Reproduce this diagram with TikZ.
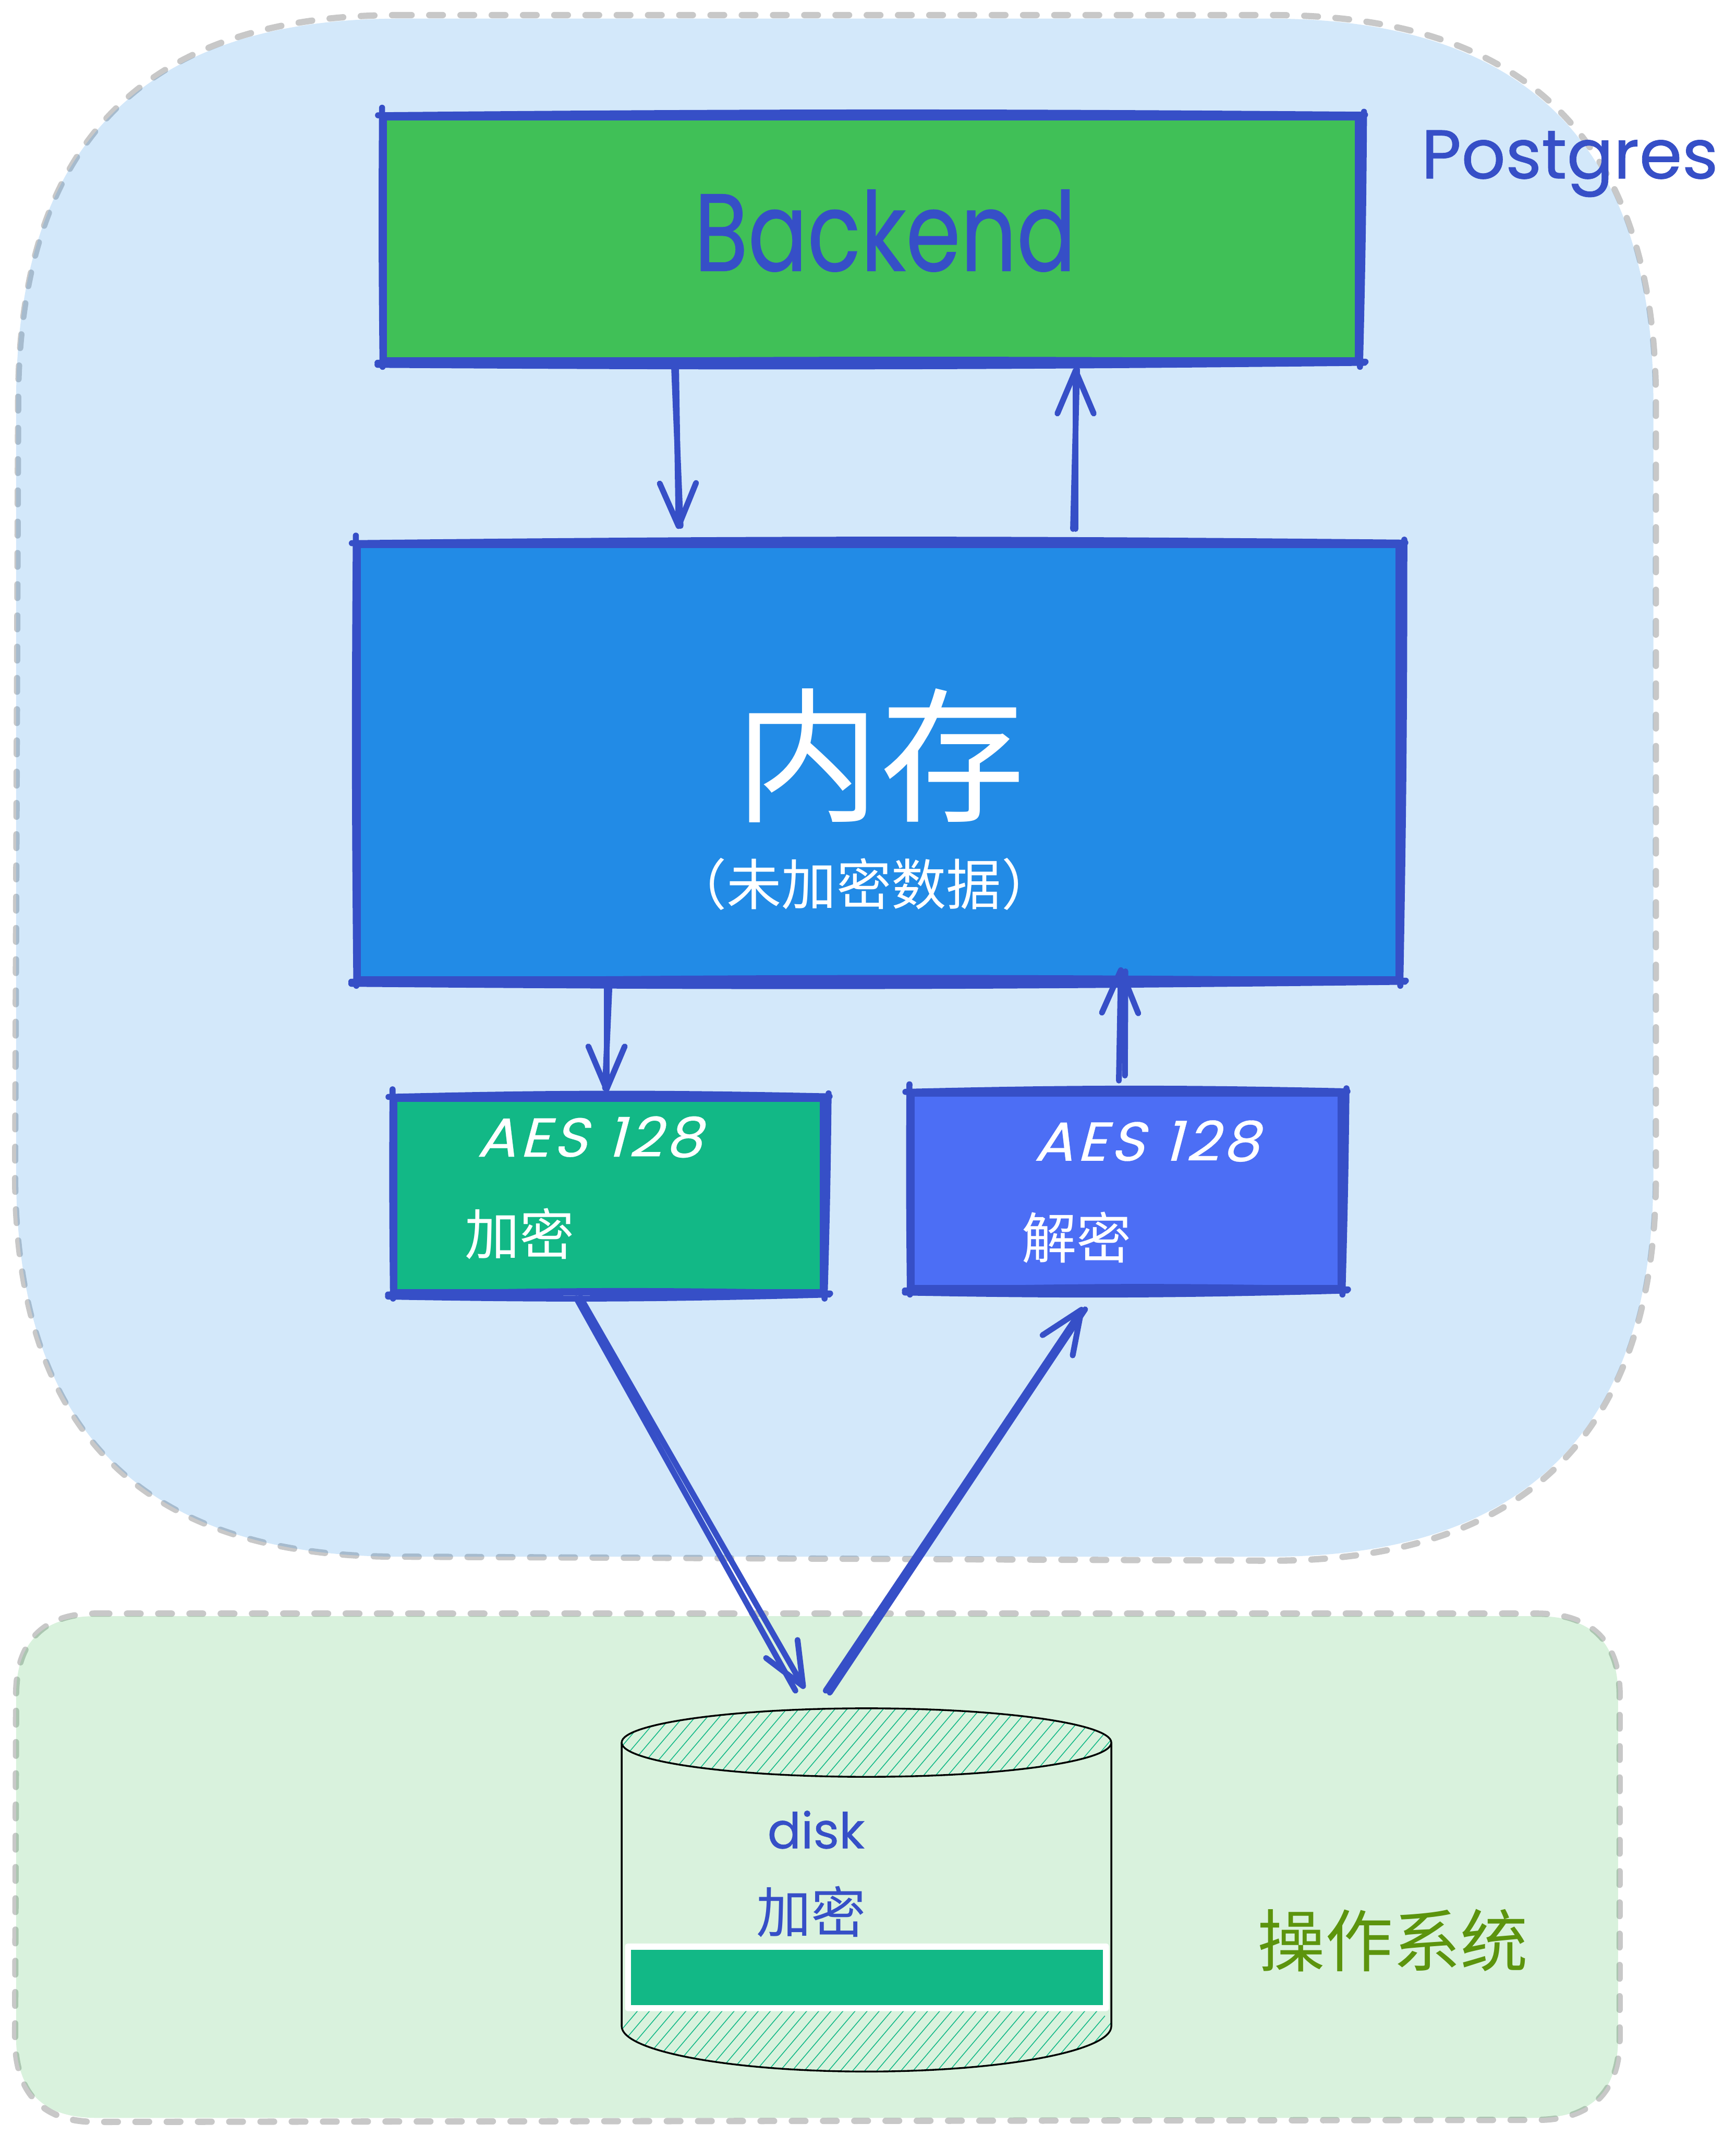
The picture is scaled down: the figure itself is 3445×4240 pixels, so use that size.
\documentclass[tikz,border=0pt]{standalone}
\usepackage{fontspec}
\usetikzlibrary{arrows.meta}
\newfontfamily\cjkf{Noto Sans CJK SC}
\newfontfamily\hand[FakeBold=0.6]{Poppins}
\newfontfamily\handsl[FakeSlant=0.25,FakeBold=0.3,LetterSpace=6]{Poppins}
\definecolor{ink}{HTML}{364FC7}
\definecolor{dashgrey}{HTML}{C8C8C8}
\definecolor{skyblue}{HTML}{228BE6}
\definecolor{leaf}{HTML}{40C057}
\definecolor{teal}{HTML}{12B886}
\definecolor{indigo}{HTML}{4C6EF5}
\definecolor{olive}{HTML}{5C940D}
\tikzset{
  x=0.01cm,y=-0.01cm,
  regionline/.style={draw=dashgrey,line width=0.125cm,line cap=round,dash pattern=on 0.27cm off 0.35cm},
  boxnode/.style={draw=ink,line width=0.13cm,inner sep=0pt},
  rough/.style={draw=ink,line width=0.12cm,line cap=round},
  arrowline/.style={draw=ink,line width=0.115cm,line cap=round,line join=round},
  arrowtip/.style={arrowline,-{Straight Barb[length=0.85cm,width=0.72cm,round]}},
  thinline/.style={draw=black,line width=0.035cm},
  hatchline/.style={draw=teal,line width=0.016cm},
  lbl/.style={inner sep=0pt,anchor=center},
}
\newcommand{\roughbox}[2]{%
  \draw[rough] ([shift={(-5,3)}]#1.north west) to[bend left=#2] ([shift={(7,2)}]#1.north east);
  \draw[rough] ([shift={(5,-4)}]#1.north east) to[bend left=0.5] ([shift={(-3,6)}]#1.south east);
  \draw[rough] ([shift={(6,-2)}]#1.south east) to[bend left=#2] ([shift={(-6,2)}]#1.south west);
  \draw[rough] ([shift={(-6,-2)}]#1.south west) to[bend left=#2] ([shift={(8,-4)}]#1.south east);
  \draw[rough] ([shift={(4,6)}]#1.south west) to[bend left=0.5] ([shift={(3,-12)}]#1.north west);
}
\begin{document}
\begin{tikzpicture}
\useasboundingbox (0,0) rectangle (3445,4240);
% region outlines beneath their translucent fills
\path[regionline] (790,30) -- (2525,30) .. controls (3035,30) and (3287,285) .. (3287,800) -- (3287,2330) .. controls (3287,2842) and (3032,3098) .. (2522,3098) -- (790,3090) .. controls (280,3090) and (30,2840) .. (30,2330) -- (36,800) .. controls (36,285) and (285,30) .. (790,30) -- cycle;
\fill[skyblue,opacity=0.2] (792,37) -- (2522,37) .. controls (3029,37) and (3282,290) .. (3282,797) -- (3282,2330) .. controls (3282,2837) and (3029,3090) .. (2522,3090) -- (792,3090) .. controls (285,3090) and (32,2837) .. (32,2330) -- (32,797) .. controls (32,290) and (285,37) .. (792,37) -- cycle;
\path[regionline] (190,3203) -- (3050,3203) .. controls (3160,3203) and (3215,3260) .. (3215,3365) -- (3215,4045) .. controls (3215,4150) and (3160,4208) .. (3050,4208) -- (190,4212) .. controls (85,4212) and (30,4155) .. (30,4045) -- (32,3365) .. controls (32,3260) and (85,3203) .. (190,3203) -- cycle;
\fill[leaf,opacity=0.2] (190,3208) -- (3050,3208) .. controls (3160,3208) and (3212,3260) .. (3212,3365) -- (3212,4045) .. controls (3212,4150) and (3160,4204) .. (3050,4204) -- (190,4204) .. controls (85,4204) and (32,4150) .. (32,4045) -- (32,3365) .. controls (32,3260) and (85,3208) .. (190,3208) -- cycle;
% boxes
\node[boxnode,fill=leaf,minimum width=19.33cm,minimum height=4.83cm] (backend) at (1729,474) {};
\node[boxnode,fill=skyblue,minimum width=20.65cm,minimum height=8.62cm] (memory) at (1743,1513) {};
\node[boxnode,fill=teal,minimum width=8.50cm,minimum height=3.84cm] (enc) at (1208,2373) {};
\node[boxnode,fill=indigo,minimum width=8.52cm,minimum height=3.86cm] (dec) at (2235,2364) {};
\roughbox{backend}{0.5}
\roughbox{memory}{0.6}
\roughbox{enc}{1.3}
\roughbox{dec}{1.3}
% texts in boxes
\node[lbl,text=ink] (backendtext) at (1757,458) {\hand\fontsize{62}{62}\selectfont\scalebox{0.8}[1]{Backend}};
\node[lbl,text=white] (memtext) at (1747,1500) {\cjkf\fontsize{82}{82}\selectfont 内存};
\node[lbl,text=white] (memsub) at (1715,1755) {\cjkf\fontsize{31}{31}\selectfont （未加密数据）};
\node[lbl,text=white] (encaes) at (1170,2257) {\handsl\fontsize{31}{31}\selectfont\scalebox{1.06}[1]{AES 128}};
\node[lbl,text=white] (deccaes) at (2276,2265) {\handsl\fontsize{31}{31}\selectfont\scalebox{1.06}[1]{AES 128}};
\node[lbl,text=white] (enctext) at (1032,2449) {\cjkf\fontsize{31}{31}\selectfont 加密};
\node[lbl,text=white] (dectext) at (2137,2457) {\cjkf\fontsize{31}{31}\selectfont 解密};
\node[lbl,text=ink] (pgtext) at (3116,325) {\hand\fontsize{39}{39}\selectfont Postgres};
% cylinder
\coordinate (disktop) at (1720,3459);
\coordinate (diskbase) at (1720,4022);
\begin{scope}
  \clip (disktop) ellipse [x radius=486,y radius=68];
  \foreach \h in {1100,1124,...,2300} \draw[hatchline] (\h,3540) -- ({\h+170},3340);
\end{scope}
\begin{scope}
  \clip (diskbase) ellipse [x radius=486,y radius=90];
  \foreach \h in {1100,1124,...,2300} \draw[hatchline] (\h,4130) -- ({\h+170},3930);
\end{scope}
\draw[thinline] (disktop) ellipse [x radius=486,y radius=68];
\draw[thinline] (1234,3459) -- (1234,4022) arc [start angle=180,end angle=360,x radius=486,y radius=-90] -- (2206,3459);
\node[fill=white,rounded corners=0.05cm,minimum width=9.6cm,minimum height=1.34cm,inner sep=0pt] (strip) at (1721,3925) {};
\node[fill=teal,minimum width=9.36cm,minimum height=1.10cm,inner sep=0pt] (stripin) at (1721,3925) {};
\node[lbl,text=ink] (disktext) at (1620,3632) {\hand\fontsize{28}{28}\selectfont disk};
\node[lbl,text=ink] (disklabel) at (1610,3795) {\cjkf\fontsize{31}{31}\selectfont 加密};
\node[lbl,text=olive] (ostext) at (2765,3852) {\cjkf\fontsize{38.2}{39}\selectfont 操作系统};
% connector ends
\coordinate (a1s) at (1342,725); \coordinate (a1e) at (1347,1050);
\coordinate (a2s) at (2135,1050); \coordinate (a2e) at (2135,730);
\coordinate (a3s) at (1204,1950); \coordinate (a3e) at (1204,2168);
\coordinate (a4s) at (2221,2145); \coordinate (a4e) at (2225,1920);
\coordinate (a5s) at (1152,2575); \coordinate (a5e) at (1597,3352);
\coordinate (a6s) at (1639,3356); \coordinate (a6e) at (2150,2595);
\draw[arrowtip] (a1s) -- (a1e);
\draw[arrowline] ([shift={(-4,3)}]a1s) -- ([shift={(4,-6)}]a1e);
\draw[arrowtip] (a2s) -- (a2e);
\draw[arrowline] ([shift={(-5,0)}]a2s) -- ([shift={(3,3)}]a2e);
\draw[arrowtip] (a3s) -- (a3e);
\draw[arrowline] ([shift={(6,2)}]a3s) -- ([shift={(-3,-8)}]a3e);
\draw[arrowtip] (a4s) -- (a4e);
\draw[arrowline] ([shift={(12,-10)}]a4s) -- ([shift={(9,8)}]a4e);
\draw[arrowtip] (a5s) -- (a5e);
\draw[arrowline] ([shift={(-8,2)}]a5s) -- ([shift={(-18,4)}]a5e);
\draw[arrowtip] (a6s) -- (a6e);
\draw[arrowline] ([shift={(8,4)}]a6s) -- ([shift={(4,4)}]a6e);
\end{tikzpicture}
\end{document}
